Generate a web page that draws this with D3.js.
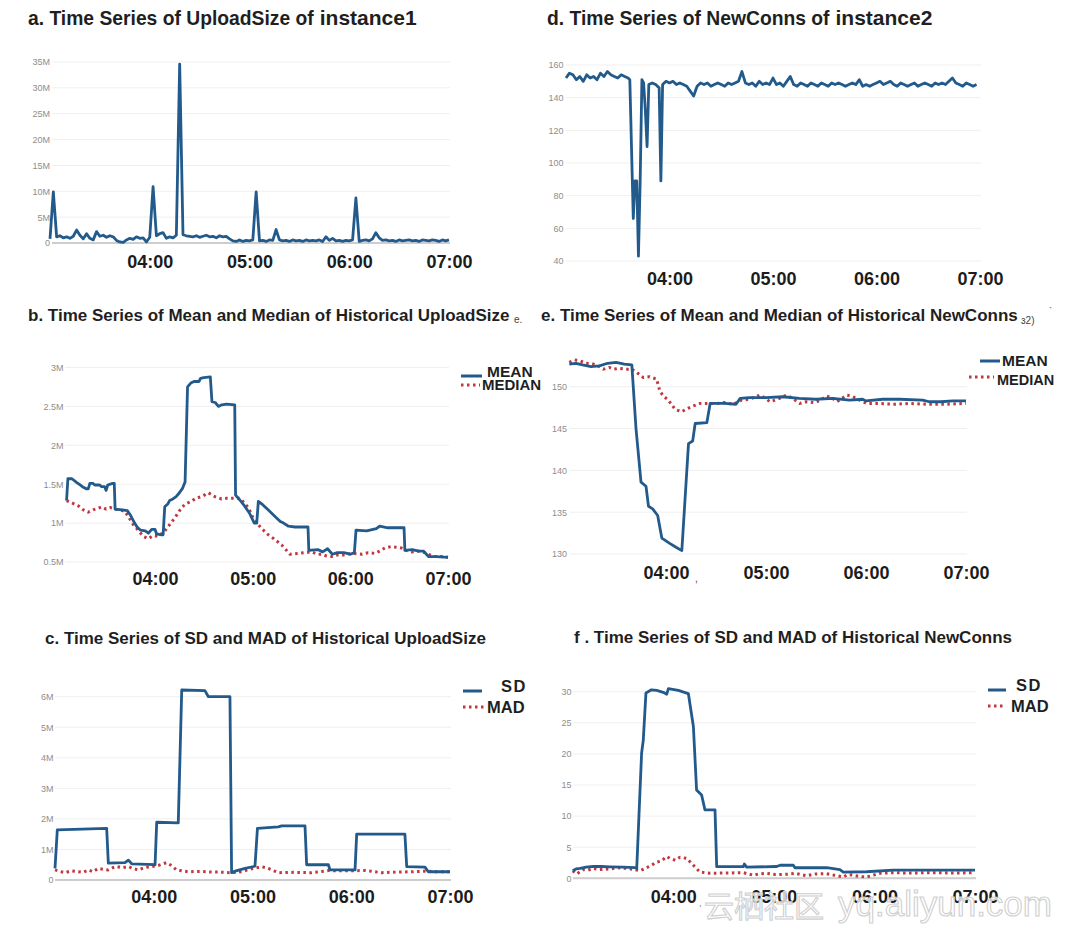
<!DOCTYPE html>
<html><head><meta charset="utf-8">
<script src="https://cdn.jsdelivr.net/npm/d3@7"></script>
<style>body{margin:0;background:#fff}svg{display:block}</style>
</head><body>
<svg id="chart" width="1066" height="933"></svg>
<script>
// ---------------- DATA (minutes after 03:00) ----------------
const hourTicks = ["04:00", "05:00", "06:00", "07:00"];

// a. UploadSize of instance1 (M), every 2 minutes
const uploadMinutes = d3.range(0, 241, 2);
const uploadSize = [
  0.8, 9.9, 1.2, 1.4, 1.0, 1.2, 0.9, 1.3, 2.5, 1.5,
  0.8, 1.8, 0.9, 0.6, 2.2, 1.3, 1.5, 1.1, 1.4, 1.2,
  0.5, 0.2, 0.1, 0.6, 0.9, 0.7, 1.2, 0.9, 1.0, 0.2,
  1.1, 10.9, 1.4, 1.8, 2.0, 0.9, 1.2, 1.0, 1.5, 34.6,
  1.6, 1.4, 1.3, 1.2, 1.4, 1.1, 1.3, 1.5, 1.2, 1.3,
  1.0, 1.4, 1.2, 1.3, 0.8, 0.4, 0.3, 0.6, 0.3, 0.5,
  0.4, 0.6, 9.9, 0.4, 0.5, 0.3, 0.6, 0.5, 2.6, 0.6,
  0.4, 0.5, 0.3, 0.6, 0.4, 0.5, 0.3, 0.6, 0.4, 0.5,
  0.4, 0.6, 0.3, 1.2, 0.5, 0.9, 0.4, 0.5, 0.3, 0.5,
  0.4, 0.6, 8.7, 0.3, 0.5, 0.6, 0.4, 0.8, 2.0, 1.0,
  0.5, 0.6, 0.4, 0.5, 0.3, 0.6, 0.4, 0.5, 0.6, 0.4,
  0.5, 0.3, 0.6, 0.5, 0.4, 0.6, 0.5, 0.3, 0.6, 0.4,
  0.6
];
const uploadTicks = [0, 5, 10, 15, 20, 25, 30, 35];

// d. NewConns of instance2
const connMinutes = [
  0, 2, 4, 6, 8, 10, 12, 14, 16, 18, 20, 22, 24, 26, 28, 30, 32, 34, 36,
  37, 39, 40, 41, 42, 43, 44, 45, 46, 47, 48, 50, 52, 54, 55, 56, 58,
  60, 62, 64, 66, 68, 70, 72, 74, 76, 78, 80, 82, 84, 86, 88, 90, 92, 94, 96, 98,
  100, 102, 104, 106, 108, 110, 112, 114, 116, 118, 120, 122, 124, 126, 128, 130, 132, 134, 136, 138,
  140, 142, 144, 146, 148, 150, 152, 154, 156, 158, 160, 162, 164, 166, 168, 170, 172, 174, 176, 178,
  180, 182, 184, 186, 188, 190, 192, 194, 196, 198, 200, 202, 204, 206, 208, 210, 212, 214, 216, 218,
  220, 222, 224, 226, 228, 230, 232, 234, 236, 238
];
const newConns = [
  152, 155, 154, 151, 153, 150, 154, 152, 153, 151, 155, 153, 156, 154, 153, 152, 154, 153, 152,
  151, 66, 89, 89, 43, 89, 151, 149, 132, 110, 148, 149, 148, 146, 89, 148, 150,
  149, 150, 148, 149, 148, 147, 144, 141, 147, 149, 148, 149, 147, 148, 149, 148, 147, 149, 148, 149,
  150, 156, 149, 148, 149, 147, 150, 148, 149, 148, 152, 148, 149, 147, 150, 153, 148, 147, 149, 148,
  147, 149, 148, 147, 149, 148, 147, 149, 148, 149, 148, 147, 148, 149, 148, 151, 147, 148, 147, 148,
  149, 150, 148, 149, 150, 148, 147, 149, 148, 147, 148, 149, 147, 148, 149, 148, 147, 149, 148, 149,
  148, 150, 152, 149, 148, 147, 149, 148, 147, 148
];
const connTicks = [40, 60, 80, 100, 120, 140, 160];

// b. Mean / Median of historical UploadSize (M)
const meanUpMinutes = [5.7, 6.5, 9, 12, 14, 16, 18, 19, 20, 22, 23, 26, 27, 29, 30, 31, 34, 35, 35.5, 40,
  43, 45, 47.5, 49, 51, 54, 56, 58, 60, 61, 64, 65, 66, 68, 69, 71, 73, 75, 77, 78.5,
  80, 82, 84, 87, 88, 90, 94, 95, 97, 99, 101, 104, 109, 109.5, 112, 115, 118, 121, 122.5, 123.5,
  126, 129, 132, 135, 137, 139, 142, 146, 150, 154, 154.5, 160, 163, 166, 169, 172, 176, 180, 182.5, 183.5,
  190, 196, 198, 203, 210, 213, 213.5, 218, 222, 225, 228, 233, 240];
const meanUpload = [1.29, 1.57, 1.57, 1.52, 1.49, 1.46, 1.44, 1.44, 1.51, 1.51, 1.49, 1.49, 1.47, 1.47, 1.42, 1.49, 1.51, 1.51, 1.18, 1.17,
  1.16, 1.1, 1.0, 0.95, 0.91, 0.9, 0.87, 0.92, 0.92, 0.86, 0.85, 0.85, 1.21, 1.25, 1.29, 1.31, 1.34, 1.39, 1.45, 1.53,
  2.75, 2.8, 2.82, 2.82, 2.86, 2.87, 2.88, 2.56, 2.55, 2.5, 2.52, 2.53, 2.52, 1.36, 1.3, 1.22, 1.13, 1.0, 1.0, 1.28,
  1.24, 1.18, 1.12, 1.06, 1.02, 1.0, 0.96, 0.95, 0.95, 0.95, 0.65, 0.66, 0.63, 0.67, 0.6, 0.62, 0.62, 0.6, 0.62, 0.91,
  0.9, 0.93, 0.96, 0.94, 0.94, 0.94, 0.65, 0.66, 0.64, 0.64, 0.57, 0.57, 0.56];
const medianUpMinutes = [5.7, 8, 10.9, 13, 16, 19, 22, 25, 27.2, 30, 32.4, 35.4, 38, 41.6, 44, 46.7, 50, 52.8, 55.9, 59,
  62, 66.1, 69, 72.3, 76.4, 79, 82.5, 85, 88.7, 92.8, 96.8, 100.9, 104, 107, 112.2, 117.3, 120, 123.4, 126, 129.6,
  133, 137.8, 142.9, 148, 152, 156.2, 160, 162.3, 165, 168.5, 172, 176.6, 181, 186.9, 191, 195, 198, 201.2, 205.3, 208,
  211.4, 214, 217.6, 222, 225.8, 229, 231.9, 236, 240];
const medianUpload = [1.29, 1.27, 1.24, 1.22, 1.17, 1.14, 1.17, 1.19, 1.21, 1.18, 1.2, 1.18, 1.17, 1.15, 1.07, 0.98, 0.9, 0.83, 0.8, 0.84,
  0.83, 0.9, 0.98, 1.07, 1.2, 1.25, 1.28, 1.32, 1.34, 1.39, 1.34, 1.31, 1.32, 1.32, 1.32, 1.2, 1.08, 0.98, 0.92, 0.85,
  0.8, 0.72, 0.6, 0.61, 0.62, 0.63, 0.6, 0.6, 0.58, 0.57, 0.59, 0.59, 0.61, 0.6, 0.62, 0.61, 0.64, 0.68, 0.7, 0.69,
  0.68, 0.65, 0.63, 0.64, 0.62, 0.59, 0.57, 0.57, 0.56];
const meanUpTicks = [0.5, 1, 1.5, 2, 2.5, 3];

// e. Mean / Median of historical NewConns
const meanConnMinutes = [2, 6, 10, 15, 20, 25, 30, 35, 39.5, 42, 45, 48, 49.5, 52, 55, 57.5, 62, 66, 69.5, 73.5,
  76, 77.5, 84.5, 86.5, 95, 102, 104.5, 110, 120, 130, 140, 150, 160, 170, 178, 180, 190, 200, 214, 218, 225, 232, 240];
const meanConns = [152.7, 152.8, 152.6, 152.4, 152.5, 152.8, 152.9, 152.7, 152.6, 145, 138.6, 138.1, 135.7, 135.4, 134.6, 131.9, 131.3, 130.8, 130.4, 143.2,
  143.5, 145.6, 145.7, 148, 148, 147.9, 148.6, 148.7, 148.7, 148.8, 148.6, 148.5, 148.6, 148.4, 148.5, 148.3, 148.5, 148.5, 148.4, 148.2, 148.2, 148.3, 148.3];
const medianConnMinutes = [2, 5, 8.4, 12, 16.4, 20, 22.4, 26, 28.4, 32, 36.4, 39.4, 42.4, 46.4, 50, 54.4, 56.4, 59, 61.4, 65.4,
  69.4, 73, 76.4, 80.4, 85, 90.4, 95, 100.4, 105.4, 110, 116.4, 119, 122.4, 127, 132.4, 136, 140.4, 144, 148.4, 152,
  156.4, 160, 162.4, 165, 168.4, 171, 174.4, 177, 180.4, 188, 196.4, 206, 216.4, 228, 240];
const medianConns = [152.9, 153.2, 153.1, 152.8, 152.7, 152.4, 152.1, 152.3, 152.1, 152.2, 152.1, 152.1, 151.7, 151.1, 151.2, 150.9, 149.4, 148.8, 148.4, 147.3,
  147, 147.4, 147.7, 148, 148, 148, 148.1, 147.9, 148.4, 148.5, 149, 148.7, 148.2, 148.5, 149, 148.6, 148, 148.2, 148.1, 148.3,
  148.9, 148.6, 148.2, 148.5, 149, 148.9, 148.6, 148.3, 148, 148, 147.9, 148, 147.9, 147.9, 148];
const meanConnTicks = [130, 135, 140, 145, 150];

// c. SD / MAD of historical UploadSize (M)
const sdUpMinutes = [0, 1.4, 31.4, 32.4, 42.5, 44.6, 46.6, 60.8, 61.8, 74.9, 77, 91.1, 93.2, 106.3, 107.3, 110, 115.5, 121.5, 123, 135.7,
  137.7, 151.9, 152.9, 166.1, 167.1, 182.3, 183.3, 212.6, 213.7, 224.8, 226.8, 240];
const sdUpload = [0.38, 1.64, 1.69, 0.55, 0.57, 0.65, 0.53, 0.5, 1.89, 1.87, 6.22, 6.2, 6.0, 6.0, 0.24, 0.3, 0.38, 0.45, 1.69, 1.74,
  1.77, 1.77, 0.5, 0.5, 0.33, 0.33, 1.5, 1.5, 0.44, 0.42, 0.27, 0.27];
const madUpMinutes = [0, 3, 6.1, 10, 14.2, 17, 20.3, 23, 26.3, 29, 32.4, 35, 37.5, 41, 44.6, 47, 50.6, 54, 58.7, 63,
  67.8, 70, 73.9, 77, 81, 88, 95.2, 100, 106.3, 110, 113.4, 118, 123.5, 126, 129.6, 133, 135.7, 145, 156, 161,
  166.1, 175, 188.4, 193, 198.5, 208, 216.8, 225, 232, 240];
const madUpload = [0.33, 0.28, 0.24, 0.3, 0.27, 0.25, 0.33, 0.27, 0.38, 0.35, 0.33, 0.4, 0.44, 0.4, 0.44, 0.38, 0.33, 0.4, 0.44, 0.48,
  0.57, 0.5, 0.33, 0.3, 0.27, 0.28, 0.26, 0.26, 0.24, 0.25, 0.27, 0.35, 0.41, 0.43, 0.38, 0.3, 0.24, 0.25, 0.24, 0.27,
  0.31, 0.3, 0.31, 0.28, 0.24, 0.26, 0.27, 0.29, 0.27, 0.27];
const sdUpTicks = [0, 1, 2, 3, 4, 5, 6];

// f. SD / MAD of historical NewConns
const sdConnMinutes = [0, 2, 4.4, 8, 12.3, 17, 22.2, 30, 37.2, 38.2, 41.1, 42.1, 43.7, 47, 50.1, 54, 56.1, 57.1, 63, 69,
  72, 73.9, 76.9, 78.9, 84.9, 85.9, 101.8, 102.4, 103.8, 121.7, 123.7, 131.6, 132.6, 151.5, 159.4, 161.4, 175.3, 191.3, 211.1, 240];
const sdConns = [1.2, 1.5, 1.6, 1.8, 1.9, 1.9, 1.85, 1.8, 1.7, 1.6, 20.1, 22.2, 29.8, 30.3, 30.2, 29.9, 29.6, 30.5, 30.2, 29.7,
  24.4, 14.2, 13.4, 11, 11, 1.87, 1.87, 2.3, 1.8, 1.9, 2.1, 2.1, 1.7, 1.7, 1.4, 1.0, 1.05, 1.3, 1.3, 1.3];
const madConnMinutes = [0, 2.4, 6.4, 9, 12.3, 16, 22.2, 27, 32.2, 37.2, 40.1, 44.1, 47, 50.1, 53, 56.1, 58, 61.2, 64, 68,
  72, 75.9, 81.9, 90, 101.8, 107.8, 111, 115.7, 121, 127.6, 133, 139.5, 145, 151.5, 156, 161.4, 164, 167.4, 171, 175.3,
  183.3, 191.3, 200, 215, 228, 240];
const madConns = [1.2, 0.7, 1.4, 1.3, 1.6, 1.4, 1.5, 1.7, 1.6, 1.4, 1.2, 1.7, 2.1, 2.6, 2.8, 3.5, 3.2, 2.9, 3.4, 3.2,
  2.1, 1.0, 0.8, 0.85, 0.9, 0.5, 0.7, 0.8, 0.6, 0.65, 0.8, 0.4, 0.7, 0.75, 0.5, 0.2, 0.6, 0.5, 0.3, 0.2,
  0.8, 0.9, 0.85, 0.9, 0.85, 0.9];
const sdConnTicks = [0, 5, 10, 15, 20, 25, 30];

// ---------------- DRAWING ----------------
const svg = d3.select("#chart");
svg.append("rect").attr("width", 1066).attr("height", 933).attr("fill", "#fff");
const FONT = "'Liberation Sans', Arial, Helvetica, sans-serif";
const BLUE = "#225a8c", RED = "#c2363f";
const base = new Date(2017, 0, 1, 3, 0, 0).getTime();
const toDate = m => new Date(base + m * 60000);
const mFmt = v => v === 0 ? "0" : v + "M";

function panel(o) {
  const g = svg.append("g");
  const x = d3.scaleTime().domain([toDate(0), toDate(240)]).range(o.xRange);
  const y = d3.scaleLinear().domain(o.yDomain).range(o.yRange);
  const right = o.xRange[1] + 1;

  // gridlines
  g.append("g").selectAll("line").data(o.yTicks).join("line")
    .attr("x1", o.axisX).attr("x2", right)
    .attr("y1", d => y(d)).attr("y2", d => y(d))
    .attr("stroke", "#efefef").attr("stroke-width", 1);
  if (o.baseline) {
    g.append("line").attr("x1", o.axisX).attr("x2", right)
      .attr("y1", y(0)).attr("y2", y(0))
      .attr("stroke", "#cdcdcd").attr("stroke-width", 2);
  }

  // y axis
  const yg = g.append("g").attr("transform", `translate(${o.axisX},0)`)
    .call(d3.axisLeft(y).tickValues(o.yTicks).tickFormat(o.fmt).tickSize(0).tickPadding(o.pad));
  yg.select(".domain").remove();
  yg.attr("font-size", 9).attr("font-family", FONT);
  yg.selectAll("text").attr("fill", "#8d8d8d");

  // x axis
  const tickDates = hourTicks.map(h => toDate((+h.slice(0, 2) - 3) * 60));
  const xg = g.append("g").attr("transform", `translate(0,${o.xLabelY})`)
    .call(d3.axisBottom(x).tickValues(tickDates).tickFormat((d, i) => hourTicks[i]).tickSize(0).tickPadding(0));
  xg.select(".domain").remove();
  xg.attr("font-size", 18).attr("font-family", FONT).attr("font-weight", "bold");
  xg.selectAll("text").attr("y", 0).attr("dy", 0).attr("fill", "#1c1c1c");

  // series
  const line = d3.line().x(p => x(p.d)).y(p => y(p.v));
  o.series.forEach(s => {
    const pts = s.t.map((t, i) => ({ d: toDate(t), v: s.v[i] }));
    g.append("path").datum(pts)
      .attr("fill", "none")
      .attr("stroke", s.dotted ? RED : BLUE)
      .attr("stroke-width", s.dotted ? 3 : 2.8)
      .attr("stroke-dasharray", s.dotted ? "2.5,3.5" : null)
      .attr("stroke-linejoin", "round")
      .attr("d", line);
  });

  // title
  const tt = g.append("text").attr("x", o.titleX).attr("y", o.titleY)
    .attr("font-family", FONT).attr("font-weight", "bold")
    .attr("font-size", o.titleSize).attr("fill", "#1f1f1f").text(o.title);
  if (o.titleTail) tt.append("tspan").attr("dx", 6).attr("font-size", 21).text(o.titleTail);

  // legend
  (o.legend || []).forEach(l => {
    g.append("line").attr("x1", l.x1).attr("x2", l.x2).attr("y1", l.ly).attr("y2", l.ly)
      .attr("stroke", l.dotted ? RED : BLUE).attr("stroke-width", 3)
      .attr("stroke-dasharray", l.dotted ? "2.5,3.5" : null);
    g.append("text").attr("x", l.tx).attr("y", l.ty)
      .attr("font-family", FONT).attr("font-weight", "bold").attr("font-size", l.size)
      .attr("letter-spacing", l.ls || 0)
      .attr("fill", "#1f1f1f").text(l.label);
  });
}

panel({
  title: "a. Time Series of UploadSize of", titleTail: "instance1", titleX: 28, titleY: 25, titleSize: 19.3,
  xRange: [50, 449], yDomain: [0, 35], yRange: [243, 62], axisX: 52, pad: 2,
  yTicks: uploadTicks, fmt: mFmt, baseline: true, xLabelY: 268,
  series: [{ t: uploadMinutes, v: uploadSize }]
});
panel({
  title: "d. Time Series of NewConns of", titleTail: "instance2", titleX: 547, titleY: 25, titleSize: 19.3,
  xRange: [566, 980], yDomain: [40, 160], yRange: [261, 65], axisX: 566, pad: 2.5,
  yTicks: connTicks, fmt: d => d, baseline: false, xLabelY: 285,
  series: [{ t: connMinutes, v: newConns }]
});
panel({
  title: "b. Time Series of Mean and Median of Historical UploadSize", titleX: 28, titleY: 320.5, titleSize: 17,
  xRange: [57.3, 448], yDomain: [0.5, 3], yRange: [562, 367.5], axisX: 65, pad: 1.5,
  yTicks: meanUpTicks, fmt: mFmt, baseline: false, xLabelY: 585,
  series: [{ t: medianUpMinutes, v: medianUpload, dotted: true }, { t: meanUpMinutes, v: meanUpload }],
  legend: [
    { x1: 461, x2: 482, ly: 376, tx: 487, ty: 376.5, label: "MEAN", size: 15.5 },
    { x1: 461, x2: 480, ly: 385, dotted: true, tx: 482, ty: 390, label: "MEDIAN", size: 15 }
  ]
});
panel({
  title: "e. Time Series of Mean and Median of Historical NewConns", titleX: 541, titleY: 320.5, titleSize: 17,
  xRange: [566, 966], yDomain: [130, 150], yRange: [554, 386.7], axisX: 570, pad: 3,
  yTicks: meanConnTicks, fmt: d => d, baseline: false, xLabelY: 579,
  series: [{ t: medianConnMinutes, v: medianConns, dotted: true }, { t: meanConnMinutes, v: meanConns }],
  legend: [
    { x1: 980, x2: 1000, ly: 361, tx: 1002, ty: 366, label: "MEAN", size: 15.5 },
    { x1: 969, x2: 994, ly: 377, dotted: true, tx: 997, ty: 385, label: "MEDIAN", size: 14.5 }
  ]
});
panel({
  title: "c. Time Series of SD and MAD of Historical UploadSize", titleX: 45, titleY: 644, titleSize: 17,
  xRange: [55, 450], yDomain: [0, 6], yRange: [880, 696.7], axisX: 55, pad: 1.6,
  yTicks: sdUpTicks, fmt: mFmt, baseline: true, xLabelY: 902.5,
  series: [{ t: madUpMinutes, v: madUpload, dotted: true }, { t: sdUpMinutes, v: sdUpload }],
  legend: [
    { x1: 463, x2: 482, ly: 691, tx: 501, ty: 692, label: "SD", size: 16.5, ls: 1.5 },
    { x1: 463, x2: 485, ly: 707, dotted: true, tx: 487, ty: 713, label: "MAD", size: 16.5 }
  ]
});
panel({
  title: "f . Time Series of SD and MAD of Historical NewConns", titleX: 574, titleY: 643, titleSize: 17,
  xRange: [572.7, 975], yDomain: [0, 30], yRange: [878.3, 691.7], axisX: 573, pad: 1.5,
  yTicks: sdConnTicks, fmt: d => d, baseline: true, xLabelY: 902.5,
  series: [{ t: madConnMinutes, v: madConns, dotted: true }, { t: sdConnMinutes, v: sdConns }],
  legend: [
    { x1: 988, x2: 1006, ly: 690, tx: 1016, ty: 691, label: "SD", size: 16.5, ls: 1.5 },
    { x1: 988, x2: 1006, ly: 706, dotted: true, tx: 1011, ty: 712, label: "MAD", size: 16.5 }
  ]
});

// small scan artefacts and watermark text
const small = (x, y, s, t, fill) => svg.append("text").attr("x", x).attr("y", y)
  .attr("font-family", FONT).attr("font-size", s).attr("fill", fill || "#444").text(t);
small(514, 323, 10, "e.");
small(1021, 324, 10, "ɜ2)");
small(1049, 313, 8, "˺");
small(695, 582, 10, ",");
small(699, 906, 9, ",", "#777");
svg.append("text").attr("x", 704).attr("y", 917)
  .attr("font-family", "'Noto Sans CJK SC', sans-serif").attr("font-size", 30)
  .attr("fill", "rgba(255,255,255,0.75)").attr("stroke", "#cfcfcf").attr("stroke-width", 1.1)
  .text("云栖社区");
svg.append("text").attr("x", 838).attr("y", 916)
  .attr("font-family", FONT).attr("font-size", 35)
  .attr("fill", "rgba(255,255,255,0.75)").attr("stroke", "#cfcfcf").attr("stroke-width", 1.1)
  .text("yq.aliyun.com");
</script>
</body></html>
